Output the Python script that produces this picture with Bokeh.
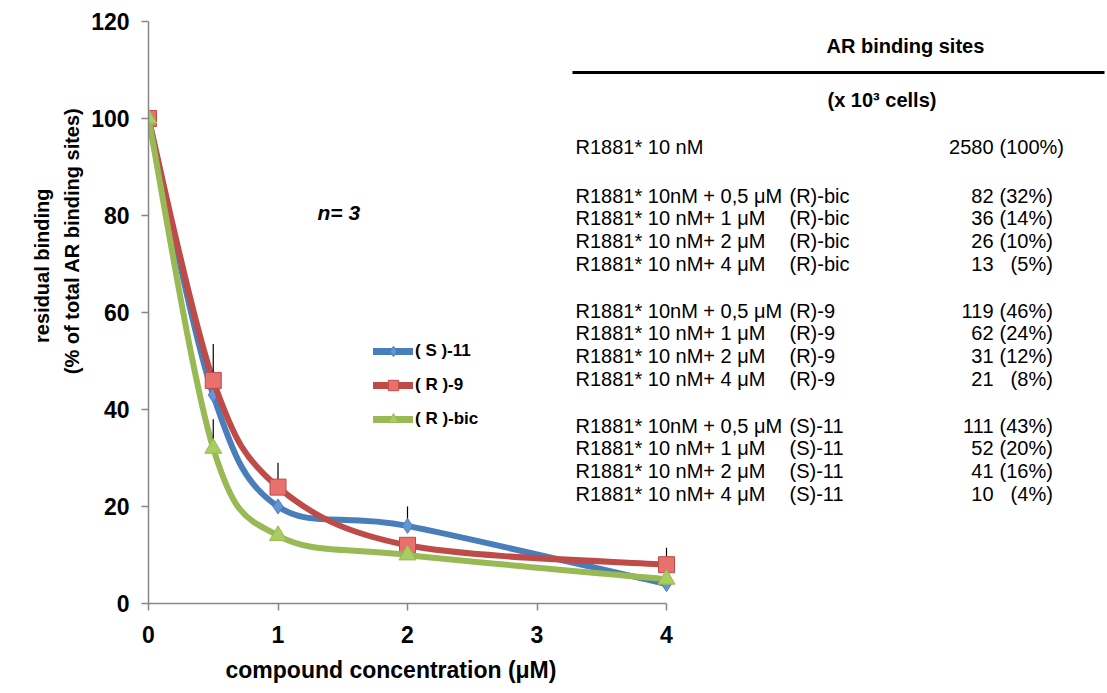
from bokeh.plotting import figure
from bokeh.models import Range1d, Legend, LegendItem, ColumnDataSource, FixedTicker, Title
from bokeh.core.properties import value
from bokeh.embed import file_html
from bokeh.resources import INLINE

# ---------------- data ----------------
conc = [0, 0.5, 1, 2, 4]
s11 = [100, 43, 20, 16, 4]
r9 = [100, 46, 24, 12, 8]
rbic = [100, 32, 14, 10, 5]
s11_err = [0, 0, 0, 4, 0]
r9_err = [0, 7.5, 5, 0, 3.5]
rbic_err = [0, 6, 0, 0, 0]
series_names = ["( S )-11", "( R )-9", "( R )-bic"]
x_ticks = [0, 1, 2, 3, 4]
y_ticks = [0, 20, 40, 60, 80, 100, 120]
x_title = "compound concentration (\u03bcM)"
y_title = ["residual binding", "(% of total AR binding sites)"]

table_header = "AR binding sites"
table_unit = "(x 10\u00b3 cells)"
ref_row = ("R1881* 10 nM", "", "2580", "(100%)")
doses = ["R1881* 10nM + 0,5 \u03bcM", "R1881* 10 nM+ 1 \u03bcM",
         "R1881* 10 nM+ 2 \u03bcM", "R1881* 10 nM+ 4 \u03bcM"]
group_compounds = ["(R)-bic", "(R)-9", "(S)-11"]
group_sites = [[82, 36, 26, 13], [119, 62, 31, 21], [111, 52, 41, 10]]
group_pct = [[32, 14, 10, 5], [46, 24, 12, 8], [43, 20, 16, 4]]

# ---------------- layout ----------------
W, H = 1107, 693
FL, FR, FT, FB = 148, 1105, 21, 603          # frame edges in canvas px
PX_PER_X = (666 - FL) / 4.0
X_END = (FR - FL) / PX_PER_X
FONT = "Liberation Sans"

def dx(X):   # canvas px -> data x
    return (X - FL) / PX_PER_X

def dy(Y):   # canvas px -> data y
    return 120.0 * (FB - Y) / (FB - FT)

p = figure(width=W, height=H, output_backend="svg", toolbar_location=None,
           x_range=Range1d(0, X_END), y_range=Range1d(0, 120),
           min_border_left=FL, min_border_right=W - FR,
           min_border_top=FT, min_border_bottom=H - FB)
p.outline_line_color = None
p.xgrid.visible = False
p.ygrid.visible = False
p.background_fill_color = "white"
p.border_fill_color = "white"

AX = "#868686"
for ax in (p.xaxis[0], p.yaxis[0]):
    ax.axis_line_color = AX
    ax.axis_line_width = 1.5
    ax.major_tick_line_color = AX
    ax.major_tick_line_width = 1.5
    ax.major_tick_in = 0
    ax.major_tick_out = 7
    ax.minor_tick_line_color = None
    ax.major_label_text_font = FONT
    ax.major_label_text_font_style = "bold"
    ax.major_label_text_font_size = "23px"
    ax.major_label_text_color = "black"

p.xaxis[0].bounds = (0, 4)
p.xaxis[0].ticker = FixedTicker(ticks=x_ticks)
p.xaxis[0].major_label_standoff = 15

p.yaxis[0].bounds = (0, 120)
p.yaxis[0].ticker = FixedTicker(ticks=y_ticks)
p.yaxis[0].major_label_standoff = 12

# axis titles (as side titles so they can be placed off-centre)
title_style = dict(text_font=FONT, text_font_style="bold", text_color="black")
p.add_layout(Title(text=x_title, align="left", offset=225 - FL, standoff=19,
                   text_font_size="23px", **title_style), "below")
p.add_layout(Title(text=y_title[1], align="right", offset=107 - FT, standoff=11,
                   text_font_size="20px", **title_style), "left")
p.add_layout(Title(text=y_title[0], align="right", offset=188 - FT, standoff=2,
                   text_font_size="20px", **title_style), "left")


def bezier_src(xs, ys, t=1.0 / 6.0):
    n = len(xs)
    d = dict(x0=[], y0=[], x1=[], y1=[], cx0=[], cy0=[], cx1=[], cy1=[])
    for i in range(n - 1):
        xp, yp = (xs[i - 1], ys[i - 1]) if i > 0 else (xs[i], ys[i])
        xn, yn = (xs[i + 2], ys[i + 2]) if i + 2 < n else (xs[i + 1], ys[i + 1])
        d["x0"].append(xs[i]); d["y0"].append(ys[i])
        d["x1"].append(xs[i + 1]); d["y1"].append(ys[i + 1])
        d["cx0"].append(xs[i] + (xs[i + 1] - xp) * t)
        d["cy0"].append(ys[i] + (ys[i + 1] - yp) * t)
        d["cx1"].append(xs[i + 1] - (xn - xs[i]) * t)
        d["cy1"].append(ys[i + 1] - (yn - ys[i]) * t)
    return ColumnDataSource(d)


styles = [
    dict(color="#4A7EBB", fill="#6495D6", marker="diamond", size=15),
    dict(color="#BE4B48", fill="#E8706D", marker="square", size=16),
    dict(color="#98B954", fill="#A8CE62", marker="triangle", size=17),
]
values = [s11, r9, rbic]
errs = [s11_err, r9_err, rbic_err]

items = []
for name, ys, es, st in zip(series_names, values, errs, styles):
    p.bezier(x0="x0", y0="y0", x1="x1", y1="y1", cx0="cx0", cy0="cy0",
             cx1="cx1", cy1="cy1", source=bezier_src(conc, ys),
             line_color=st["color"], line_width=6, line_cap="round")
    ex = [x for x, e in zip(conc, es) if e > 0]
    ey0 = [y for y, e in zip(ys, es) if e > 0]
    ey1 = [y + e for y, e in zip(ys, es) if e > 0]
    if ex:
        p.segment(x0=ex, y0=ey0, x1=ex, y1=ey1, line_color="black", line_width=1.2)
    leg_line = p.line(conc, ys, line_color=st["color"], line_width=7,
                      line_cap="round", visible=False)
    sc = p.scatter(conc, ys, marker=st["marker"], size=st["size"],
                   fill_color=st["fill"], line_color=st["color"], line_width=1)
    items.append(LegendItem(label=name, renderers=[leg_line, sc]))

legend = Legend(items=items, location=(225, 171), orientation="vertical",
                glyph_width=40, glyph_height=26, label_height=26, spacing=8,
                padding=0, margin=0, label_standoff=2,
                border_line_color=None, background_fill_alpha=0,
                label_text_font=FONT, label_text_font_style="bold",
                label_text_font_size="17px", label_text_color="black")
p.add_layout(legend, "center")

# n = 3
p.text(x=[dx(317)], y=[dy(212)], text=["n= 3"], text_font=value(FONT),
       text_font_style="bold italic", text_font_size="21px",
       text_baseline="middle", text_align="left", text_color="black")

# table header
p.text(x=[dx(826)], y=[dy(45)], text=[table_header], text_font=value(FONT),
       text_font_style="bold", text_font_size="20px", text_baseline="middle",
       text_color="black")
p.segment(x0=[dx(572)], y0=[dy(72)], x1=[dx(1104)], y1=[dy(72)],
          line_color="black", line_width=3)
p.text(x=[dx(827)], y=[dy(99)], text=[table_unit], text_font=value(FONT),
       text_font_style="bold", text_font_size="20px", text_baseline="middle",
       text_color="black")

# table rows
row_y = [146]
labels, comps, sites, pcts = [ref_row[0]], [ref_row[1]], [ref_row[2]], [ref_row[3]]
group_top = [195, 310, 425]
for g, top in enumerate(group_top):
    for k in range(4):
        row_y.append(top + k * 22.7)
        labels.append(doses[k])
        comps.append(group_compounds[g])
        sites.append(str(group_sites[g][k]))
        pv = group_pct[g][k]
        pcts.append(("(%d%%)" % pv) if pv >= 10 else ("\u2007(%d%%)" % pv))

ry = [dy(v) for v in row_y]
common = dict(text_font=value(FONT), text_font_size="20px",
              text_baseline="middle", text_color="black")
p.text(x=[dx(575)] * len(ry), y=ry, text=labels, text_align="left", **common)
p.text(x=[dx(789)] * len(ry), y=ry, text=comps, text_align="left", **common)
p.text(x=[dx(993)] * len(ry), y=ry, text=sites, text_align="right", **common)
p.text(x=[dx(999)] * len(ry), y=ry, text=pcts, text_align="left", **common)

open("out.html", "w").write(file_html(p, INLINE))
